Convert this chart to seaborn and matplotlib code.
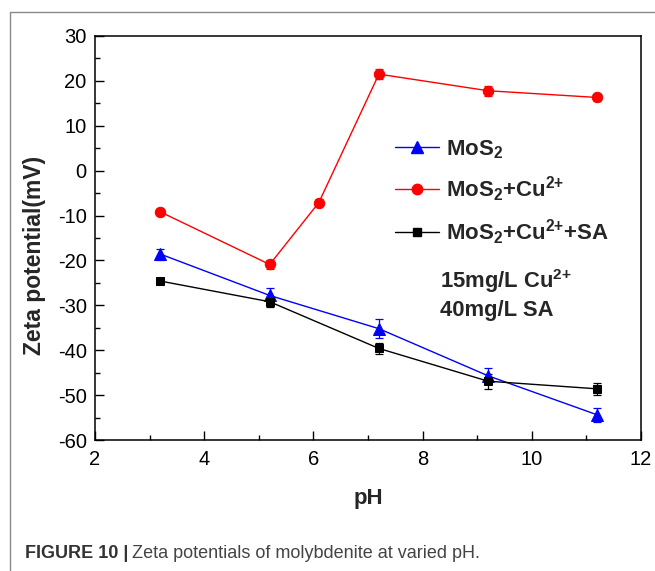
import numpy as np
import pandas as pd
import matplotlib
matplotlib.use("Agg")
import matplotlib.pyplot as plt
import seaborn as sns
from matplotlib.lines import Line2D
from matplotlib.ticker import MultipleLocator

# values
ph_mos2 = [3.2, 5.2, 7.2, 9.2, 11.2]
zeta_mos2 = [-18.6, -27.8, -35.2, -45.7, -54.4]
err_mos2 = [1.2, 1.7, 2.1, 1.7, 1.6]

ph_cu = [3.2, 5.2, 6.1, 7.2, 9.2, 11.2]
zeta_cu = [-9.2, -20.9, -7.1, 21.5, 17.8, 16.3]
err_cu = [0.7, 1.1, 0.7, 1.1, 1.1, 0.7]

ph_sa = [3.2, 5.2, 7.2, 9.2, 11.2]
zeta_sa = [-24.6, -29.2, -39.6, -46.9, -48.6]
err_sa = [0.5, 1.1, 1.2, 1.7, 1.3]

names = ["MoS2", "MoS2+Cu", "MoS2+Cu+SA"]
labels = [r"MoS$_\mathbf{2}$", r"MoS$_\mathbf{2}$+Cu$^\mathbf{2{+}}$",
          r"MoS$_\mathbf{2}$+Cu$^\mathbf{2{+}}$+SA"]
colors = {"MoS2": "#0000ff", "MoS2+Cu": "#ff0000", "MoS2+Cu+SA": "#000000"}
markers = {"MoS2": "^", "MoS2+Cu": "o", "MoS2+Cu+SA": "s"}
msizes = {"MoS2": 8, "MoS2+Cu": 7.5, "MoS2+Cu+SA": 5.5}

df = pd.concat([
    pd.DataFrame({"pH": ph_mos2, "zeta": zeta_mos2, "err": err_mos2, "sample": "MoS2"}),
    pd.DataFrame({"pH": ph_cu, "zeta": zeta_cu, "err": err_cu, "sample": "MoS2+Cu"}),
    pd.DataFrame({"pH": ph_sa, "zeta": zeta_sa, "err": err_sa, "sample": "MoS2+Cu+SA"}),
], ignore_index=True)

sns.set_theme(style="ticks")
plt.rcParams["font.family"] = ["Liberation Sans", "DejaVu Sans"]
plt.rcParams["mathtext.fontset"] = "custom"
plt.rcParams["mathtext.rm"] = "Liberation Sans"
plt.rcParams["mathtext.bf"] = "Liberation Sans:bold"
plt.rcParams["axes.unicode_minus"] = False

fig = plt.figure(figsize=(6.55, 5.71), dpi=100)
ax = fig.add_axes([0.145, 0.2294, 0.8336, 0.7076])

for name in names:
    sub = df[df["sample"] == name]
    ax.errorbar(sub["pH"], sub["zeta"], yerr=sub["err"], fmt="none",
                ecolor=colors[name], elinewidth=0.9, capsize=3, capthick=0.9, zorder=2)
    sns.lineplot(data=sub, x="pH", y="zeta", color=colors[name], marker=markers[name],
                 markersize=msizes[name], markeredgecolor=colors[name], linewidth=1.0,
                 ax=ax, zorder=3, legend=False)

ax.set_xlim(2, 12)
ax.set_ylim(-60, 30)
ax.xaxis.set_major_locator(MultipleLocator(2))
ax.xaxis.set_minor_locator(MultipleLocator(1))
ax.yaxis.set_major_locator(MultipleLocator(10))
ax.yaxis.set_minor_locator(MultipleLocator(5))
ax.tick_params(which="both", direction="in", width=1.0, color="black", labelsize=14.5,
               labelcolor="black")
ax.tick_params(which="major", length=6.5)
ax.tick_params(which="minor", length=3.6)
ax.tick_params(axis="x", pad=7)
ax.tick_params(axis="y", pad=6)
for sp in ax.spines.values():
    sp.set_linewidth(1.1)
    sp.set_color("black")

ax.set_xlabel("pH", fontsize=16, fontweight="bold", labelpad=14)
ax.set_ylabel("Zeta potential(mV)", fontsize=16.5, fontweight="bold")
ax.yaxis.set_label_coords(-0.089, 0.458)

handles = [Line2D([], [], color=colors[n], marker=markers[n], markersize=msizes[n],
                  linewidth=1.0) for n in names]
ax.legend(handles, labels, loc="upper left", bbox_to_anchor=(0.512, 0.797), frameon=False,
          prop={"weight": "bold", "size": 16}, handlelength=2.0, handletextpad=0.3,
          labelspacing=0.62)

ax.text(0.632, 0.376, r"15mg/L Cu$^\mathbf{2{+}}$", transform=ax.transAxes,
        fontsize=15.8, fontweight="bold", va="baseline")
ax.text(0.632, 0.307, "40mg/L SA", transform=ax.transAxes,
        fontsize=15.8, fontweight="bold", va="baseline")

# outer frame of the page and caption
fig.add_artist(Line2D([10 / 655, 1], [1 - 12 / 571] * 2, color="#8a8a8a", linewidth=1.0,
                      transform=fig.transFigure))
fig.add_artist(Line2D([10 / 655] * 2, [0, 1 - 12 / 571], color="#8a8a8a", linewidth=1.0,
                      transform=fig.transFigure))
t1 = fig.text(25 / 655, 1 - 553 / 571, "FIGURE 10 |", fontsize=13, fontweight="bold",
              color="#333333", va="center")
fig.canvas.draw()
bb = t1.get_window_extent()
fig.text(bb.x1 / 655 + 4 / 655, 1 - 553 / 571, "Zeta potentials of molybdenite at varied pH.",
         fontsize=13, color="#444444", va="center")

fig.savefig("out.png", dpi=100)
